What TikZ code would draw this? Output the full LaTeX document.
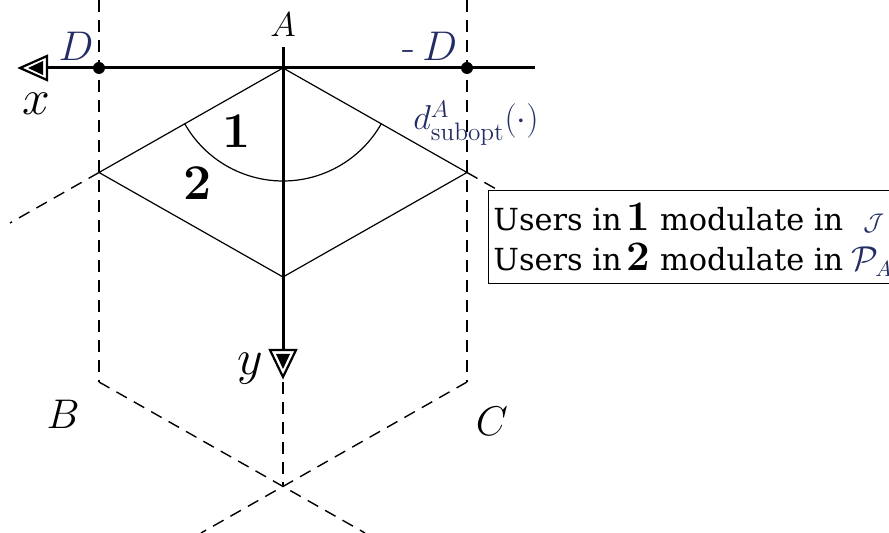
\documentclass[tikz,border=0pt]{standalone}
\usepackage{fontspec}
\usepackage{amsmath}
\newfontfamily\boxfont{DejaVu Serif}
\definecolor{dblue}{RGB}{35,45,100}
\begin{document}
\begin{tikzpicture}[x=0.5pt,y=-0.5pt,
  axisline/.style={line width=1.5pt},
  thinline/.style={line width=0.6pt},
  dashline/.style={line width=0.7pt, dash pattern=on 6pt off 4pt},
  lbl/.style={inner sep=0pt},
  dotmark/.style={circle, fill=black, inner sep=0pt, minimum size=6pt}]
\useasboundingbox (0,0) rectangle (889,533);
\clip (0,0) rectangle (889,533);
% coordinates
\coordinate (A) at (283,68);
\coordinate (L) at (99,172.5);
\coordinate (R) at (467,172.5);
\coordinate (Bo) at (283,277);
\coordinate (Ltop) at (99,0);
\coordinate (Rtop) at (467,0);
\coordinate (Bc) at (99,382);
\coordinate (Cc) at (467,382);
\coordinate (X) at (283,486.5);
\coordinate (Lext) at (10,223);
\coordinate (Rext) at (556,223);
\coordinate (BLend) at (201,533);
\coordinate (BRend) at (365,533);
\coordinate (xend) at (535,68);
\coordinate (xbase) at (46,68);
\coordinate (ytop) at (283,47);
\coordinate (ybase) at (283,350);
\coordinate (ydash) at (283,382);
% dashed construction lines
\draw[dashline] (Ltop) -- (Bc);
\draw[dashline] (Rtop) -- (Cc);
\draw[dashline] (L) -- (Lext);
\draw[dashline] (R) -- (Rext);
\draw[dashline] (Bc) -- (BRend);
\draw[dashline] (Cc) -- (BLend);
\draw[dashline] (ydash) -- (X);
% rhombus
\draw[thinline] (A) -- (L) -- (Bo) -- (R) -- cycle;
% arc
\draw[thinline] ([shift={(209.6:56.5pt)}]A) arc[start angle=209.6, end angle=330.4, radius=56.5pt];
% axes
\draw[axisline] (xend) -- (xbase);
\draw[axisline] (ytop) -- (ybase);
% arrowheads
\draw[line width=1.1pt, fill=white, line join=miter] (20,68) -- (47,56) -- (47,80) -- cycle;
\fill (28,68) -- (43,61) -- (43,75) -- cycle;
\draw[line width=1.1pt, fill=white, line join=miter] (283,377) -- (270,350) -- (296,350) -- cycle;
\fill (283,369) -- (276,354) -- (290,354) -- cycle;
% dots
\node[dotmark] (Dl) at (99,68) {};
\node[dotmark] (Dr) at (467,68) {};
% labels
\node[lbl] (lA) at (283,25) {\fontsize{19}{22}\selectfont $A$};
\node[lbl, text=dblue] (lD) at (76,46) {\fontsize{21}{24}\selectfont $D$};
\node[lbl, text=dblue] (lmD) at (430,46) {\fontsize{21}{24}\selectfont -\,$D$};
\node[lbl] (lx) at (36,104) {\fontsize{26}{30}\selectfont $x$};
\node[lbl] (ly) at (250,369) {\fontsize{28}{32}\selectfont $y$};
\node[lbl] (lB) at (63,414) {\fontsize{22}{26}\selectfont $B$};
\node[lbl] (lC) at (492,421) {\fontsize{22}{26}\selectfont $C$};
\node[lbl] (l1) at (237,131) {\fontsize{25}{30}\selectfont\bfseries 1};
\node[lbl] (l2) at (198,183) {\fontsize{25}{30}\selectfont\bfseries 2};
\node[lbl, text=dblue] (ld) at (476,123) {\fontsize{18}{21}\selectfont $d^{A}_{\mathrm{subopt}}(\cdot)$};
% legend box
\node[draw, line width=0.6pt, fill=white, anchor=north west, minimum width=480pt, minimum height=46.5pt, inner sep=0pt] (box) at (488,190) {};
\node[lbl, anchor=base west] (t1) at (493,231) {\fontsize{15.2}{18}\selectfont\boxfont Users in\,{\fontsize{21}{25}\selectfont\normalfont\bfseries 1}\ modulate in\hspace{10pt}{\color{dblue}\fontsize{13}{16}\selectfont$\mathcal{J}$}};
\node[lbl, anchor=base west] (t2) at (493,271) {\fontsize{15.2}{18}\selectfont\boxfont Users in\,{\fontsize{21}{25}\selectfont\normalfont\bfseries 2}\ modulate in\hspace{4pt}{\color{dblue}\fontsize{16}{19}\selectfont$\mathcal{P}_{A}$}};
\end{tikzpicture}
\end{document}
